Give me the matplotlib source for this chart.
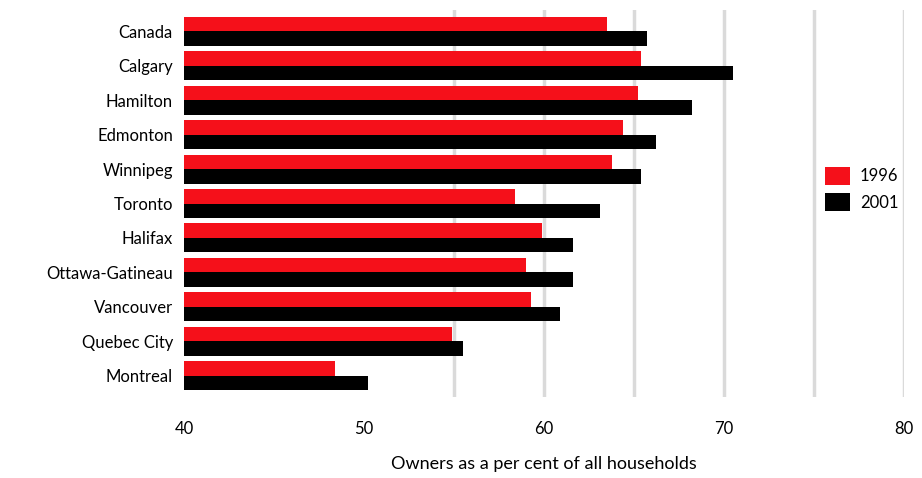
import matplotlib
matplotlib.use("Agg")
import matplotlib.pyplot as plt
import numpy as np
from matplotlib.patches import Patch

cities = ["Canada", "Calgary", "Hamilton", "Edmonton", "Winnipeg", "Toronto",
          "Halifax", "Ottawa-Gatineau", "Vancouver", "Quebec City", "Montreal"]
v1996 = [63.5, 65.4, 65.2, 64.4, 63.8, 58.4, 59.9, 59.0, 59.3, 54.9, 48.4]
v2001 = [65.7, 70.5, 68.2, 66.2, 65.4, 63.1, 61.6, 61.6, 60.9, 55.5, 50.2]
xticks = [40, 50, 60, 70, 80]
gridlines = [55, 60, 65, 70, 75, 80]
series_labels = ["1996", "2001"]
xlabel = "Owners as a per cent of all households"

plt.rcParams['font.family'] = ['Lato', 'DejaVu Sans']

fig = plt.figure(figsize=(9.22, 4.78), dpi=100)
ax = fig.add_axes([184/922, 1-397/478, 720/922, 387/478])

y = np.arange(len(cities))
h = 0.42
red = '#f5101a'
ax.barh(y - h/2, [v - 40 for v in v1996], left=40, height=h, color=red, zorder=3)
ax.barh(y + h/2, [v - 40 for v in v2001], left=40, height=h, color='black', zorder=3)

for gx in gridlines:
    ax.axvline(gx, color='#dadada', lw=2.5, zorder=1)

ax.set_xlim(40, 80)
ax.set_ylim(10.62, -0.62)
ax.set_yticks(y)
ax.set_yticklabels(cities, fontsize=12)
ax.set_xticks(xticks)
ax.set_xticklabels([str(t) for t in xticks], fontsize=12)
ax.tick_params(axis='both', length=0)
ax.tick_params(axis='x', pad=17)
ax.tick_params(axis='y', pad=8)
for s in ax.spines.values():
    s.set_visible(False)
ax.set_xlabel(xlabel, fontsize=13, labelpad=14)

handles = [Patch(facecolor=red), Patch(facecolor='black')]
leg = fig.legend(handles, series_labels, loc='center left',
                 bbox_to_anchor=(810/922, 1-189/478), frameon=False,
                 fontsize=12, handlelength=1.5, handleheight=1.3,
                 labelspacing=0.5, handletextpad=0.6)

fig.savefig("out.png", dpi=100, facecolor='white')
